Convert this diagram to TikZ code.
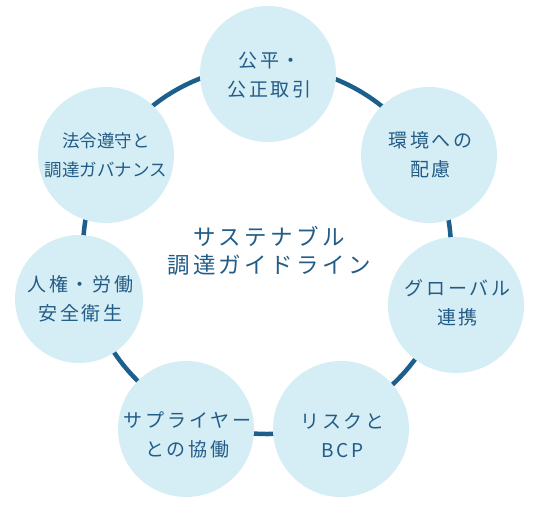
\documentclass[tikz,border=0pt]{standalone}
\usepackage{fontspec}
\setmainfont{Noto Sans CJK JP}
\newfontfamily\jpspaced[LetterSpace=15]{Noto Sans CJK JP}
\newfontfamily\jptitle[LetterSpace=15]{Noto Sans CJK JP}
\newfontfamily\jpplain{Noto Sans CJK JP}
\definecolor{bubblefill}{HTML}{D5EDF5}
\definecolor{ringblue}{HTML}{1D5F8C}
\definecolor{txtblue}{HTML}{235C86}
\begin{document}
\begin{tikzpicture}[x=1pt,y=-1pt,
  bubble/.style={circle, fill=bubblefill, minimum size=136pt, inner sep=0pt},
  lbl/.style={text=txtblue, align=center, inner sep=0pt,
    font=\jpspaced\fontsize{19}{29}\selectfont},
  lbltight/.style={text=txtblue, align=center, inner sep=0pt,
    font=\jpplain\fontsize{17.5}{29}\selectfont},
  title/.style={text=txtblue, align=center, inner sep=0pt,
    font=\jptitle\fontsize{22.5}{28}\selectfont},
  ring/.style={draw=ringblue, line width=4.5pt}]
\useasboundingbox (0,0) rectangle (540,504);
\coordinate (rc) at (267,250);
\draw[ring] (rc) circle[radius=184pt];
\node[bubble] (t)  at (268,74) {};
\node[bubble] (lt) at (106,155) {};
\node[bubble] (rt) at (429,155) {};
\node[bubble, minimum size=128pt] (l) at (79,299) {};
\node[bubble] (r)  at (456,305) {};
\node[bubble] (bl) at (186,429) {};
\node[bubble] (br) at (341,429) {};
\node[lbl] (t-txt) at ([xshift=1.5pt,yshift=-1.5pt]t.center) {公平・\\公正取引};
\node[lbltight] (lt-txt) at (lt.center) {法令遵守と\\調達ガバナンス};
\node[lbl] (rt-txt) at ([xshift=1.5pt]rt.center) {環境への\\配慮};
\node[lbl] (r-txt) at ([xshift=1.5pt,yshift=2pt]r.center) {グローバル\\連携};
\node[lbl] (l-txt) at ([xshift=1.5pt]l.center) {人権・労働\\安全衛生};
\node[lbl] (bl-txt) at ([xshift=1.5pt,yshift=-6pt]bl.center) {サプライヤー\\との協働};
\node[lbl] (br-txt) at ([xshift=1.5pt,yshift=-6pt]br.center) {リスクと\\BCP};
\node[title] (center-txt) at (269,251) {サステナブル\\調達ガイドライン};
\end{tikzpicture}
\end{document}
